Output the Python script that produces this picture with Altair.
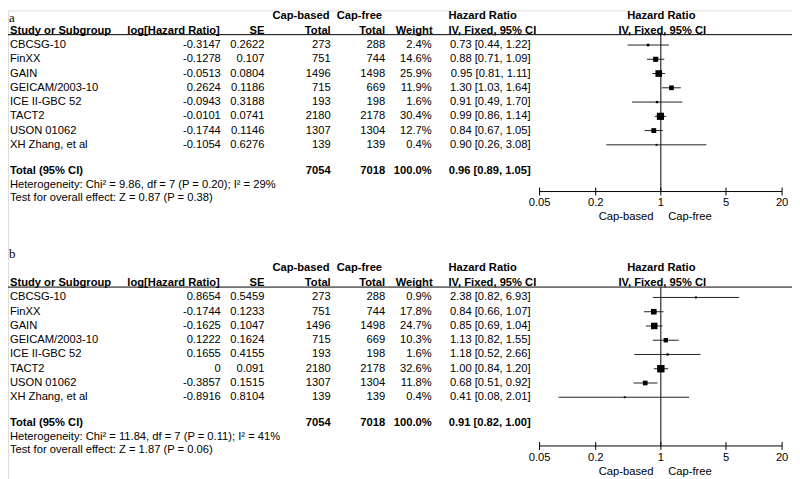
import altair as alt
import pandas as pd

# ---------------- data ----------------
studies = ["CBCSG-10", "FinXX", "GAIN", "GEICAM/2003-10", "ICE II-GBC 52",
           "TACT2", "USON 01062", "XH Zhang, et al"]
cap_based_total = [273, 751, 1496, 715, 193, 2180, 1307, 139]
cap_free_total = [288, 744, 1498, 669, 198, 2178, 1304, 139]
total_weight = 100.0

a_loghr = [-0.3147, -0.1278, -0.0513, 0.2624, -0.0943, -0.0101, -0.1744, -0.1054]
a_se = [0.2622, 0.107, 0.0804, 0.1186, 0.3188, 0.0741, 0.1146, 0.6276]
a_weight = [2.4, 14.6, 25.9, 11.9, 1.6, 30.4, 12.7, 0.4]
a_hr = [0.73, 0.88, 0.95, 1.30, 0.91, 0.99, 0.84, 0.90]
a_lo = [0.44, 0.71, 0.81, 1.03, 0.49, 0.86, 0.67, 0.26]
a_hi = [1.22, 1.09, 1.11, 1.64, 1.70, 1.14, 1.05, 3.08]
a_total = [0.96, 0.89, 1.05]
a_het = "Heterogeneity: Chi² = 9.86, df = 7 (P = 0.20); I² = 29%"
a_test = "Test for overall effect: Z = 0.87 (P = 0.38)"

b_loghr = [0.8654, -0.1744, -0.1625, 0.1222, 0.1655, 0, -0.3857, -0.8916]
b_se = [0.5459, 0.1233, 0.1047, 0.1624, 0.4155, 0.091, 0.1515, 0.8104]
b_weight = [0.9, 17.8, 24.7, 10.3, 1.6, 32.6, 11.8, 0.4]
b_hr = [2.38, 0.84, 0.85, 1.13, 1.18, 1.00, 0.68, 0.41]
b_lo = [0.82, 0.66, 0.69, 0.82, 0.52, 0.84, 0.51, 0.08]
b_hi = [6.93, 1.07, 1.04, 1.55, 2.66, 1.20, 0.92, 2.01]
b_total = [0.91, 0.82, 1.00]
b_het = "Heterogeneity: Chi² = 11.84, df = 7 (P = 0.11); I² = 41%"
b_test = "Test for overall effect: Z = 1.87 (P = 0.06)"

panel_letters = ["a", "b"]
tick_values = [0.05, 0.2, 1, 5, 20]
tick_labels = ["0.05", "0.2", "1", "5", "20"]

# ---------------- layout ----------------
W, H = 792, 474
FONT = "Liberation Sans"
FS = 11.3
OFF = [0, 255]        # table block offset per panel
AOFF = [0, 257]       # axis block offset per panel
ROW0, STEP = 35, 14.4
TOPHDR, HDR, LINE = 5.5, 20.8, 24.5
TOTAL, HET, TEST = 162, 176, 189.5
AXIS, TICKLAB, DIRLAB = 183, 195, 209

YS = alt.Scale(domain=[0, H], range=[0, H], nice=False, zero=False)
XS = alt.Scale(type="log", domain=[0.05, 20], range=[537, 782], nice=False)
Y = alt.Y("y:Q", scale=YS, axis=None)


def fmt(v):
    return f"{v:g}"


panels = [
    (a_loghr, a_se, a_weight, a_hr, a_lo, a_hi, a_total, a_het, a_test),
    (b_loghr, b_se, b_weight, b_hr, b_lo, b_hi, b_total, b_het, b_test),
]

rows, tot, foot, dia, vline, axis, ticks, dirl = [], [], [], [], [], [], [], []
for p, (lh, se, w, hr, lo, hi, t, het, test) in enumerate(panels):
    off = OFF[p]
    aoff = AOFF[p]
    for i, s in enumerate(studies):
        rows.append(dict(panel=p, study=s, loghr=fmt(lh[i]), se=fmt(se[i]),
                         cb=str(cap_based_total[i]), cf=str(cap_free_total[i]),
                         wt=f"{w[i]:.1f}%",
                         ci=f"{hr[i]:.2f} [{lo[i]:.2f}, {hi[i]:.2f}]",
                         hr=hr[i], lo=lo[i], hi=hi[i], weight=w[i],
                         y=off + ROW0 + STEP * i))
    tot.append(dict(panel=p, label="Total (95% CI)", cb=str(sum(cap_based_total)),
                    cf=str(sum(cap_free_total)), wt=f"{total_weight:.1f}%",
                    ci=f"{t[0]:.2f} [{t[1]:.2f}, {t[2]:.2f}]", y=off + TOTAL))
    foot.append(dict(panel=p, t=het, y=off + HET))
    foot.append(dict(panel=p, t=test, y=off + TEST))
    yc = off + TOTAL + 3
    dia += [dict(panel=p, x=t[1], yt=yc, yb=yc),
            dict(panel=p, x=t[0], yt=yc - 5, yb=yc + 5),
            dict(panel=p, x=t[2], yt=yc, yb=yc)]
    vline.append(dict(panel=p, x=1, y=off + LINE, y2=aoff + AXIS))
    axis.append(dict(panel=p, x=tick_values[0], x2=tick_values[-1], y=aoff + AXIS))
    for tv, tl in zip(tick_values, tick_labels):
        ticks.append(dict(panel=p, x=tv, lab=tl, y=aoff + AXIS - 4,
                          y2=aoff + AXIS + 4, ly=aoff + TICKLAB))
    dirl.append(dict(panel=p, l="Cap-based", r="Cap-free", y=aoff + DIRLAB))

study_df = pd.DataFrame(rows)
tot_df = pd.DataFrame(tot)
foot_df = pd.DataFrame(foot)
dia_df = pd.DataFrame(dia)
vline_df = pd.DataFrame(vline)
axis_df = pd.DataFrame(axis)
tick_df = pd.DataFrame(ticks)
dir_df = pd.DataFrame(dirl)


def both(text, ypos):
    return pd.DataFrame({"t": [text, text], "y": [OFF[0] + ypos, OFF[1] + ypos]})


def text_layer(df, field, x, align="left", bold=False, size=FS, font=FONT,
               baseline="middle", ycol="y"):
    return alt.Chart(df).mark_text(
        align=align, baseline=baseline, font=font, fontSize=size,
        fontWeight="bold" if bold else "normal", color="black"
    ).encode(x=alt.value(x), y=alt.Y(f"{ycol}:Q", scale=YS, axis=None),
             text=f"{field}:N")


layers = []

# panel letters
letters_df = pd.DataFrame({"t": panel_letters, "y": [11.6, OFF[1] - 5]})
layers.append(text_layer(letters_df, "t", 1, size=13, font="Liberation Serif",
                         baseline="alphabetic"))

# header texts
headers = [
    ("Cap-based", 296, "center", TOPHDR),
    ("Cap-free", 355, "center", TOPHDR),
    ("Hazard Ratio", 445, "left", TOPHDR),
    ("Hazard Ratio", 660, "center", TOPHDR),
    ("Study or Subgroup", 2, "left", HDR),
    ("log[Hazard Ratio]", 214, "right", HDR),
    ("SE", 259, "right", HDR),
    ("Total", 326, "right", HDR),
    ("Total", 381, "right", HDR),
    ("Weight", 429, "right", HDR),
    ("IV, Fixed, 95% CI", 445, "left", HDR),
    ("IV, Fixed, 95% CI", 661, "center", HDR),
]
for txt, x, al, yy in headers:
    layers.append(text_layer(both(txt, yy), "t", x, align=al, bold=True))

# header rule
line_df = both("", LINE)
layers.append(alt.Chart(line_df).mark_rule(color="black", strokeWidth=1).encode(
    x=alt.value(0), x2=alt.value(W), y=Y))

# study rows
layers.append(text_layer(study_df, "study", 2))
layers.append(text_layer(study_df, "loghr", 215, align="right"))
layers.append(text_layer(study_df, "se", 259, align="right"))
layers.append(text_layer(study_df, "cb", 326, align="right"))
layers.append(text_layer(study_df, "cf", 381, align="right"))
layers.append(text_layer(study_df, "wt", 428, align="right"))
layers.append(text_layer(study_df, "ci", 528, align="right"))

# total rows
layers.append(text_layer(tot_df, "label", 2, bold=True))
layers.append(text_layer(tot_df, "cb", 326, align="right", bold=True))
layers.append(text_layer(tot_df, "cf", 381, align="right", bold=True))
layers.append(text_layer(tot_df, "wt", 428, align="right", bold=True))
layers.append(text_layer(tot_df, "ci", 528, align="right", bold=True))

# footers
layers.append(text_layer(foot_df, "t", 2))

# forest: null line
layers.append(alt.Chart(vline_df).mark_rule(color="black", strokeWidth=1).encode(
    x=alt.X("x:Q", scale=XS, axis=None), y=Y,
    y2=alt.Y2("y2:Q")))

# CI lines
layers.append(alt.Chart(study_df).mark_rule(color="#222222", strokeWidth=1).encode(
    x=alt.X("lo:Q", scale=XS, axis=None), x2=alt.X2("hi:Q"), y=Y))

# squares
layers.append(alt.Chart(study_df).mark_square(filled=True, color="black", opacity=1).encode(
    x=alt.X("hr:Q", scale=XS, axis=None), y=Y,
    size=alt.Size("weight:Q", scale=alt.Scale(domain=[0, 32.6], range=[3, 56]),
                  legend=None)))

# diamond
layers.append(alt.Chart(dia_df).mark_area(color="black", opacity=1).encode(
    x=alt.X("x:Q", scale=XS, axis=None),
    y=alt.Y("yt:Q", scale=YS, axis=None), y2=alt.Y2("yb:Q"),
    detail="panel:N", order="x:Q"))

# axis line and ticks
layers.append(alt.Chart(axis_df).mark_rule(color="black", strokeWidth=1).encode(
    x=alt.X("x:Q", scale=XS, axis=None), x2=alt.X2("x2:Q"), y=Y))
layers.append(alt.Chart(tick_df).mark_rule(color="black", strokeWidth=1).encode(
    x=alt.X("x:Q", scale=XS, axis=None), y=Y, y2=alt.Y2("y2:Q")))
layers.append(alt.Chart(tick_df).mark_text(
    font=FONT, fontSize=FS, baseline="middle", align="center", color="black"
).encode(x=alt.X("x:Q", scale=XS, axis=None),
         y=alt.Y("ly:Q", scale=YS, axis=None), text="lab:N"))

# direction labels
layers.append(text_layer(dir_df, "l", 652, align="right"))
layers.append(text_layer(dir_df, "r", 667, align="left"))

chart = alt.layer(*layers).properties(
    width=W, height=H, padding=0, autosize=alt.AutoSizeParams(type="none")
).configure_view(stroke=None).configure(background="white")

chart.save("out.html", embed_options={"renderer": "svg", "actions": False})
